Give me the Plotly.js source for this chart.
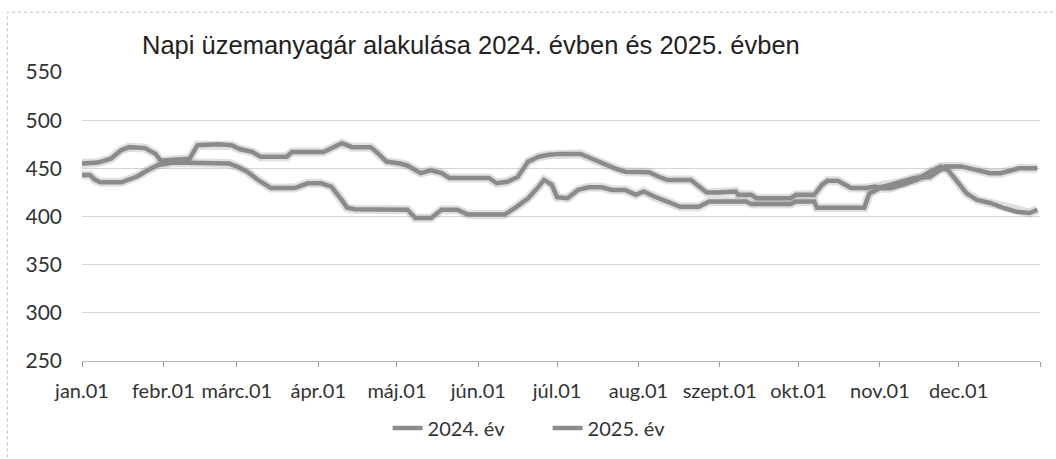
<!DOCTYPE html>
<html>
<head>
<meta charset="utf-8">
<script src="https://cdn.plot.ly/plotly-3.0.1.min.js"></script>
<style>html,body{margin:0;padding:0;background:#fff;}#chart{width:1056px;height:459px;}</style>
</head>
<body>
<div id="chart"></div>
<script>
// Day of year (0 = jan.01) and price values
const days2024 = [0,6,11,15,18,24,28,30,35,41,44,52,57,60,65,68,78,80,92,95,98,99,103,110,113,116,121,124,129,133,137,140,155,158,162,166,170,174,178,182,190,194,198,203,207,216,220,223,232,235,238,242,249,250,255,257,270,272,279,282,284,288,291,293,299,302,304,311,317,323,326,329,335,341,346,350,353,357,364];
const values2024 = [455,456,460,469,472,471,465,458,459,460,474,475,474,470,467,462,462,467,467,471,474,476,472,472,465,457,455,453,445,448,445,440,440,434.5,436,441,457,462,464,465,465,460,455,450,446.5,446,441,438,438,431,425,425,426,422.5,422.5,419,419,422.5,422.5,433,437,437,433,429.5,429.5,431,430,435,440,441,447,452,452,448,445,445,447.5,450,450];

const days2025 = [0,3,5,7,15,18,21,25,29,35,52,56,59,63,67,72,81,86,91,95,99,101,104,124,127,133,137,143,147,161,165,170,174,176,179,181,185,189,193,198,202,207,211,214,218,223,228,235,239,242,253,255,270,272,279,280,298,300,304,308,313,318,323,327,330,333,337,341,346,351,356,361,364];
const values2025 = [443,443,438,435.5,435.5,438,441.5,448,453.5,456,456,455,452,446.5,438,429.5,429.5,434.5,434.5,431,417,409,407.5,407,398.5,398.5,407,407,402,402,409,419,431,438,433,420,419,427.6,430.4,430.4,427.6,427.6,422.5,426,420.7,415.6,410,410,415.6,415.6,415.6,413,413,415.6,415.6,409,409,424,429.4,429.4,433,438,446.5,451.7,448,438,424,417.3,414,409,405,403.6,407];

const tickDays = [0,31,59,90,120,151,181,212,243,273,304,334,365];
const tickLabels = ['jan.01','febr.01','márc.01','ápr.01','máj.01','jún.01','júl.01','aug.01','szept.01','okt.01','nov.01','dec.01',''];
const seriesNames = ['2024. év','2025. év'];
const yTicks = [250,300,350,400,450,500,550];

const lineColor = '#8b8b8b';
const shadowColor = 'rgba(140,140,140,0.28)';

const traces = [
  {x: days2024, y: values2024, mode:'lines', line:{color:shadowColor, width:9}, showlegend:false, hoverinfo:'skip'},
  {x: days2025, y: values2025, mode:'lines', line:{color:shadowColor, width:9}, showlegend:false, hoverinfo:'skip'},
  {x: days2024, y: values2024, mode:'lines', name: seriesNames[0], line:{color:lineColor, width:4.5}},
  {x: days2025, y: values2025, mode:'lines', name: seriesNames[1], line:{color:lineColor, width:4.5}}
];

const layout = {
  width:1056, height:459,
  paper_bgcolor:'#ffffff', plot_bgcolor:'#ffffff',
  margin:{l:82, r:16, t:72, b:97},
  font:{family:'Lato, "Liberation Sans", sans-serif', color:'#333'},
  title:{text:'Napi üzemanyagár alakulása 2024. évben és 2025. évben',
         font:{family:'"Liberation Sans", Arial, sans-serif', size:25.5, color:'#222'},
         x:142/1056, xanchor:'left', xref:'container', y:1-45/459, yanchor:'middle', yref:'container'},
  xaxis:{range:[0,365], tickmode:'array', tickvals:tickDays, ticktext:tickLabels,
         ticks:'outside', ticklen:5, tickcolor:'#999', showline:true, linecolor:'#bbb', linewidth:1,
         showgrid:false, zeroline:false, tickfont:{size:20, color:'#333'}, ticklabelstandoff:7, fixedrange:true},
  yaxis:{range:[250,550], tickmode:'array', tickvals:yTicks, showgrid:true, gridcolor:'#d6d6d6', gridwidth:1,
         zeroline:false, showline:false, ticks:'', tickfont:{size:21, color:'#333'}, ticklabelstandoff:19, fixedrange:true},
  legend:{orientation:'h', x:0.486, xanchor:'center', y:-0.228, yanchor:'middle',
          entrywidth:115, entrywidthmode:'pixels',
          font:{size:20, color:'#333'}, bgcolor:'rgba(0,0,0,0)'},
  shapes:[{type:'rect', xref:'paper', yref:'paper', x0:-0.078, x1:1.03, y0:-0.36, y1:1.207,
           line:{color:'#bdbdbd', width:1, dash:'dot'}}],
  showlegend:true
};

Plotly.newPlot('chart', traces, layout, {displayModeBar:false, staticPlot:true});
</script>
</body>
</html>
